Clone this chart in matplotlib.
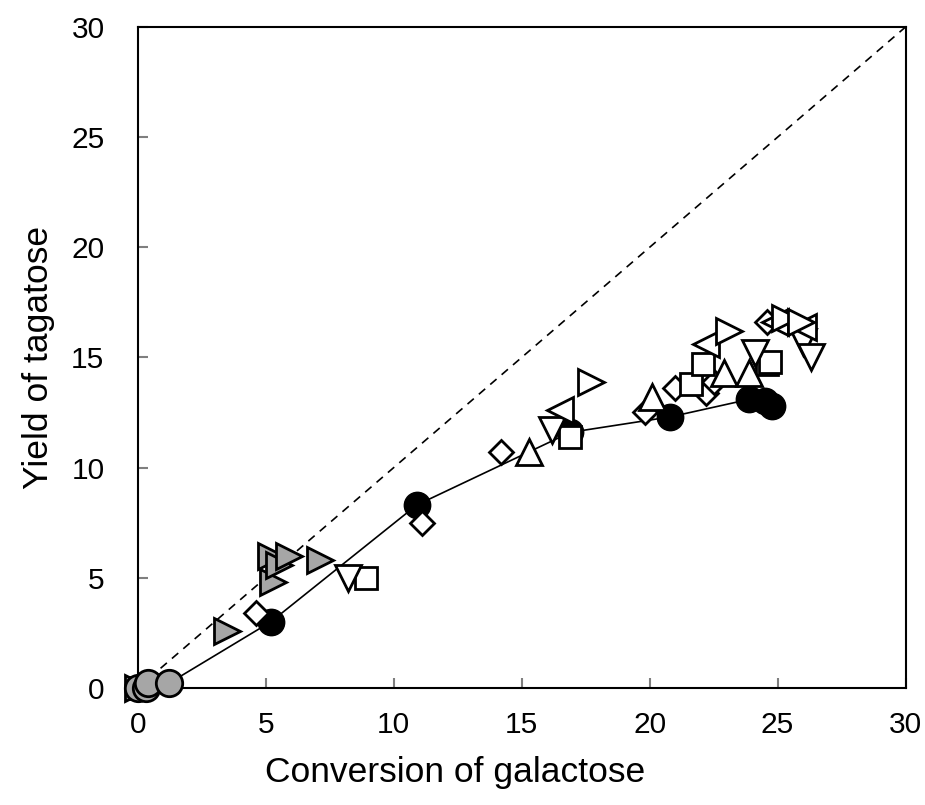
import matplotlib.pyplot as plt

plt.rcParams['font.family'] = ['Liberation Sans', 'DejaVu Sans']

# black filled circles, joined by a line
black_x = [0, 1.2, 5.2, 10.9, 16.9, 20.8, 23.9, 24.5, 24.8]
black_y = [0, 0.2, 3.0, 8.3, 11.6, 12.3, 13.1, 13.0, 12.8]

# grey filled circles
grey_circ_x = [0, 0.3, 0.4, 1.2]
grey_circ_y = [0, 0.0, 0.2, 0.2]

# grey filled right triangles
grey_tri_x = [0, 3.5, 5.3, 5.2, 5.5, 5.9, 7.1]
grey_tri_y = [0, 2.6, 4.8, 6.0, 5.6, 6.0, 5.8]

# grey square at origin
grey_sq_x = [0]
grey_sq_y = [0]

# open markers
diam_x = [4.6, 11.1, 14.2, 19.8, 21.0, 22.2, 22.5, 24.6]
diam_y = [3.4, 7.5, 10.7, 12.5, 13.6, 13.4, 13.9, 16.6]

sq_x = [8.9, 16.9, 21.6, 22.1, 24.6, 24.7]
sq_y = [5.0, 11.4, 13.8, 14.7, 14.7, 14.8]

up_x = [15.3, 20.1, 22.9, 23.9]
up_y = [10.7, 13.2, 14.3, 14.3]

down_x = [8.2, 16.2, 24.1, 26.0, 26.3]
down_y = [5.0, 11.7, 15.2, 15.7, 15.0]

left_x = [16.5, 22.2, 24.9, 26.0]
left_y = [12.6, 15.6, 16.6, 16.4]

right_x = [17.7, 23.1, 25.3, 25.9]
right_y = [13.9, 16.2, 16.8, 16.6]

xticks = [0, 5, 10, 15, 20, 25, 30]
yticks = [0, 5, 10, 15, 20, 25, 30]

grey = '#a6a6a6'
ms = 19
mew = 2

fig = plt.figure(figsize=(9.25, 8.05), dpi=100)
ax = fig.add_axes([0.149, 0.1455, 0.83, 0.821])

# 1:1 reference line
ax.plot([0, 30], [0, 30], color='black', linestyle=(0, (5, 4)), linewidth=1.2, zorder=1)

ax.plot(black_x, black_y, color='black', linewidth=1.2, marker='o', markersize=ms,
        markerfacecolor='black', markeredgecolor='black', zorder=2, clip_on=False)

open_series = [(diam_x, diam_y, 'D', 12.5), (sq_x, sq_y, 's', 15.5),
               (up_x, up_y, '^', ms), (down_x, down_y, 'v', ms),
               (left_x, left_y, '<', ms), (right_x, right_y, '>', ms)]
for xs, ys, m, s in open_series:
    ax.plot(xs, ys, linestyle='none', marker=m, markersize=s, markerfacecolor='white',
            markeredgecolor='black', markeredgewidth=mew, zorder=3, clip_on=False)

ax.plot(grey_sq_x, grey_sq_y, linestyle='none', marker='s', markersize=15.5,
        markerfacecolor=grey, markeredgecolor='black', markeredgewidth=mew, zorder=4, clip_on=False)
ax.plot(grey_tri_x, grey_tri_y, linestyle='none', marker='>', markersize=ms,
        markerfacecolor=grey, markeredgecolor='black', markeredgewidth=mew, zorder=4, clip_on=False)
ax.plot(grey_circ_x, grey_circ_y, linestyle='none', marker='o', markersize=ms,
        markerfacecolor=grey, markeredgecolor='black', markeredgewidth=mew, zorder=5, clip_on=False)

ax.set_xlim(0, 30)
ax.set_ylim(0, 30)
ax.set_xticks(xticks)
ax.set_yticks(yticks)
ax.tick_params(axis='both', direction='in', length=7, width=1.5, color='#7f7f7f',
               labelsize=21.5)
ax.tick_params(axis='x', pad=17)
ax.tick_params(axis='y', pad=24)
for side in ['left', 'right', 'top', 'bottom']:
    ax.spines[side].set_linewidth(1.5)
    ax.spines[side].set_color('black')

ax.set_xlabel('Conversion of galactose', fontsize=25.5)
ax.xaxis.set_label_coords(0.413, -0.103)
ax.set_ylabel('Yield of tagatose', fontsize=25.5, labelpad=12)

fig.savefig('out.png', dpi=100)
